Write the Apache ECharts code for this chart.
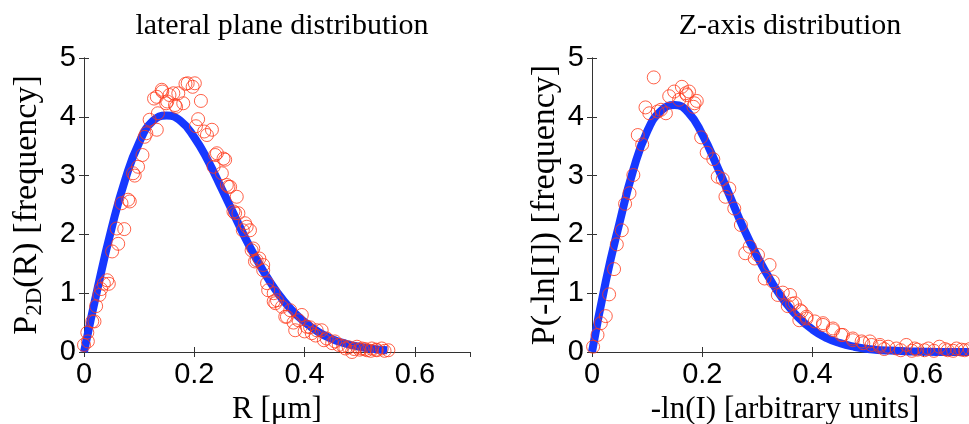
<!DOCTYPE html>
<html style="height: 100%">
<head>
<meta charset="utf-8">
<script src="https://cdn.jsdelivr.net/npm/echarts@6/dist/echarts.min.js"></script>
</head>
<body style="height: 100%; margin: 0; background: #fff">
<div id="container" style="width: 969px; height: 424px"></div>
<script type="text/javascript">

// tick settings shared by both panels
var xTicks = {min: 0, max: 0.7, interval: 0.2};
var yTicks = {min: 0, max: 5, interval: 1};

// lateral plane: fitted curve [R, P]
var lateralCurve = [
    [0, 0], [0.025, 1.10], [0.05, 2.10], [0.075, 2.94], [0.1, 3.56], [0.125, 3.93],
    [0.15, 4.02], [0.175, 3.93], [0.2, 3.65], [0.225, 3.25], [0.25, 2.77], [0.275, 2.28],
    [0.3, 1.80], [0.325, 1.38], [0.35, 1.02], [0.375, 0.73], [0.4, 0.51], [0.425, 0.34],
    [0.45, 0.22], [0.475, 0.14], [0.5, 0.09], [0.525, 0.05], [0.55, 0.03]
];

// lateral plane: measured histogram
var lateralPoints = [
    [0.0, 0.12], [0.007, 0.18], [0.006, 0.33], [0.015, 0.52], [0.019, 0.52], [0.022, 0.78],
    [0.028, 0.97], [0.031, 1.07], [0.036, 1.16], [0.042, 1.22], [0.045, 1.16], [0.051, 1.71],
    [0.062, 1.84], [0.059, 2.10], [0.073, 2.09], [0.068, 2.53], [0.080, 2.59], [0.083, 2.56],
    [0.089, 3.04], [0.092, 3.00], [0.098, 3.15], [0.106, 3.35], [0.110, 3.66], [0.113, 3.72],
    [0.119, 3.95], [0.132, 3.78], [0.134, 4.06], [0.127, 4.31], [0.142, 4.43], [0.149, 4.23],
    [0.155, 4.37], [0.165, 4.20], [0.171, 4.40], [0.180, 4.23], [0.184, 4.56], [0.132, 4.34],
    [0.141, 4.46], [0.151, 4.26], [0.162, 4.40], [0.167, 4.17], [0.188, 4.57], [0.201, 4.57],
    [0.197, 4.51], [0.212, 4.27], [0.207, 3.96], [0.203, 3.84], [0.218, 3.75], [0.223, 3.69],
    [0.232, 3.78], [0.238, 3.35], [0.241, 3.38], [0.235, 3.15], [0.253, 3.29], [0.256, 3.27],
    [0.250, 3.04], [0.259, 2.84], [0.262, 2.81], [0.265, 2.81], [0.277, 2.64], [0.271, 2.39],
    [0.274, 2.36], [0.280, 2.36], [0.292, 2.19], [0.295, 2.13], [0.288, 2.07], [0.301, 2.07],
    [0.304, 1.73], [0.307, 1.76], [0.310, 1.54], [0.313, 1.56], [0.318, 1.59], [0.325, 1.48],
    [0.325, 1.39], [0.332, 1.17], [0.334, 1.05], [0.344, 1.00], [0.344, 0.86], [0.350, 0.88],
    [0.347, 0.83], [0.359, 0.77], [0.365, 0.60], [0.368, 0.60], [0.374, 0.71], [0.383, 0.37],
    [0.38, 0.50], [0.389, 0.54], [0.395, 0.63], [0.400, 0.35], [0.404, 0.43], [0.410, 0.42],
    [0.413, 0.32], [0.420, 0.28], [0.422, 0.37], [0.431, 0.37], [0.435, 0.20], [0.440, 0.23],
    [0.450, 0.15], [0.455, 0.18], [0.462, 0.12], [0.470, 0.10], [0.474, 0.06], [0.480, 0.08],
    [0.486, 0.00], [0.490, 0.05], [0.495, 0.09], [0.500, 0.04], [0.504, 0.06], [0.510, 0.05],
    [0.513, 0.03], [0.520, 0.02], [0.522, 0.06], [0.530, 0.04], [0.531, 0.03], [0.540, 0.06],
    [0.545, 0.02], [0.552, 0.03]
];

// z-axis: fitted curve [-ln(I), P]
var zCurve = [
    [0, 0], [0.025, 1.20], [0.05, 2.20], [0.075, 3.10], [0.1, 3.75], [0.125, 4.10],
    [0.15, 4.20], [0.175, 4.07], [0.2, 3.70], [0.225, 3.20], [0.25, 2.65], [0.275, 2.10],
    [0.3, 1.62], [0.325, 1.20], [0.35, 0.85], [0.375, 0.58], [0.4, 0.38], [0.425, 0.24],
    [0.45, 0.15], [0.475, 0.09], [0.5, 0.05], [0.525, 0.03], [0.55, 0.02], [0.575, 0.01],
    [0.6, 0.005], [0.625, 0], [0.65, 0], [0.7, 0]
];

// z-axis: measured histogram
var zPoints = [
    [0.002, 0.09], [0.010, 0.29], [0.016, 0.49], [0.025, 0.61], [0.031, 0.98], [0.040, 1.41],
    [0.045, 1.83], [0.054, 2.07], [0.060, 2.52], [0.068, 2.70], [0.075, 3.01], [0.083, 3.69],
    [0.091, 3.53], [0.097, 4.16], [0.104, 4.06], [0.112, 4.67], [0.119, 4.09], [0.125, 4.12],
    [0.134, 4.06], [0.140, 4.35], [0.149, 4.43], [0.158, 4.29], [0.163, 4.51], [0.170, 4.40],
    [0.176, 4.43], [0.184, 4.17], [0.172, 4.37], [0.190, 4.27], [0.186, 4.23], [0.198, 3.65],
    [0.208, 3.39], [0.220, 3.28], [0.228, 2.98], [0.237, 2.94], [0.242, 2.64], [0.249, 2.78],
    [0.258, 2.44], [0.270, 2.16], [0.278, 1.68], [0.286, 1.79], [0.295, 1.59], [0.301, 1.65],
    [0.313, 1.25], [0.322, 1.48], [0.328, 1.20], [0.337, 0.97], [0.346, 1.01], [0.355, 0.78],
    [0.359, 0.97], [0.363, 0.82], [0.368, 0.83], [0.376, 0.54], [0.377, 0.71], [0.380, 0.69],
    [0.389, 0.57], [0.389, 0.60], [0.404, 0.52], [0.419, 0.49], [0.419, 0.46], [0.437, 0.37],
    [0.437, 0.40], [0.452, 0.29], [0.455, 0.29], [0.473, 0.23], [0.473, 0.20], [0.489, 0.18],
    [0.492, 0.15], [0.504, 0.18], [0.507, 0.12], [0.522, 0.12], [0.522, 0.09], [0.530, 0.05],
    [0.537, 0.09], [0.552, 0.06], [0.560, 0.03], [0.570, 0.12], [0.580, 0.02], [0.585, 0.06],
    [0.590, 0.04], [0.603, 0.03], [0.610, 0.06], [0.620, 0.02], [0.630, 0.09], [0.640, 0.05],
    [0.645, 0.03], [0.655, 0.02], [0.661, 0.06], [0.670, 0.04], [0.676, 0.03], [0.685, 0.05],
    [0.695, 0.02]
];

var myChart = echarts.init(document.getElementById('container'));

var sans = 'Liberation Sans';
var serif = 'Liberation Serif';
var lineColor = '#333';

function boxAxes(gridIndex, xName, yName, yGap) {
    var x = {
        type: 'value', gridIndex: gridIndex,
        min: xTicks.min, max: xTicks.max, interval: xTicks.interval,
        axisLine: {lineStyle: {color: lineColor, width: 1}},
        axisTick: {inside: true, length: 5, lineStyle: {color: lineColor}},
        splitLine: {show: false}
    };
    var y = {
        type: 'value', gridIndex: gridIndex,
        min: yTicks.min, max: yTicks.max, interval: yTicks.interval,
        axisLine: {show: true, lineStyle: {color: lineColor, width: 1}},
        axisTick: {show: true, inside: true, length: 5, lineStyle: {color: lineColor}},
        splitLine: {show: false}
    };
    var xBottom = echarts.util.merge({
        position: 'bottom',
        name: xName, nameLocation: 'middle', nameGap: 35,
        nameTextStyle: {fontFamily: serif, fontSize: 31, color: '#000'},
        axisLabel: {showMaxLabel: false, margin: 8, fontFamily: sans, fontSize: 29, color: '#000'}
    }, x, true);
    var xTop = echarts.util.merge({position: 'top', axisLabel: {show: false}}, echarts.util.clone(x), true);
    var yLeft = echarts.util.merge({
        position: 'left',
        name: yName, nameLocation: 'middle', nameGap: yGap, nameRotate: 90,
        nameTextStyle: {
            fontFamily: serif, fontSize: 34, color: '#000',
            rich: {
                a: {fontFamily: serif, fontSize: 34, color: '#000'},
                sub: {fontFamily: serif, fontSize: 23, color: '#000', verticalAlign: 'bottom', padding: [14, 0, 0, 0]}
            }
        },
        axisLabel: {margin: 8, fontFamily: sans, fontSize: 29, color: '#000'}
    }, y, true);
    var yRight = echarts.util.merge({position: 'right', axisLabel: {show: false}}, echarts.util.clone(y), true);
    return {x: [xBottom, xTop], y: [yLeft, yRight]};
}

var left = boxAxes(0, 'R [\u03bcm]', '{a|P}{sub|2D}{a|(R) [frequency]}', 38);
var right = boxAxes(1, '-ln(I) [arbitrary units]', 'P(-ln[I]) [frequency]', 30);

var titleStyle = {fontFamily: serif, fontSize: 30, fontWeight: 'normal', color: '#000'};

var option = {
    backgroundColor: '#fff',
    animation: false,
    title: [
        {text: 'lateral plane distribution', left: 277, top: 6, textAlign: 'center', textStyle: titleStyle},
        {text: 'Z-axis distribution', left: 785, top: 6, textAlign: 'center', textStyle: titleStyle}
    ],
    grid: [
        {left: 84, top: 58, width: 386, height: 294, outerBoundsMode: 'none', containLabel: false},
        {left: 592, top: 58, width: 386, height: 294, outerBoundsMode: 'none', containLabel: false}
    ],
    xAxis: left.x.concat(right.x),
    yAxis: left.y.concat(right.y),
    series: [
        {
            type: 'line', xAxisIndex: 0, yAxisIndex: 0, data: lateralCurve,
            smooth: true, showSymbol: false, symbol: 'none',
            lineStyle: {color: '#1638ff', width: 8}, z: 2
        },
        {
            type: 'scatter', xAxisIndex: 0, yAxisIndex: 0, data: lateralPoints,
            symbol: 'circle', symbolSize: 13,
            itemStyle: {color: 'transparent', borderColor: '#ff3a1a', borderWidth: 1}, z: 3
        },
        {
            type: 'line', xAxisIndex: 2, yAxisIndex: 2, data: zCurve,
            smooth: true, showSymbol: false, symbol: 'none',
            lineStyle: {color: '#1638ff', width: 8}, z: 2
        },
        {
            type: 'scatter', xAxisIndex: 2, yAxisIndex: 2, data: zPoints,
            symbol: 'circle', symbolSize: 13,
            itemStyle: {color: 'transparent', borderColor: '#ff3a1a', borderWidth: 1}, z: 3
        }
    ]
};

myChart.setOption(option, true);

</script>
</body>
</html>
